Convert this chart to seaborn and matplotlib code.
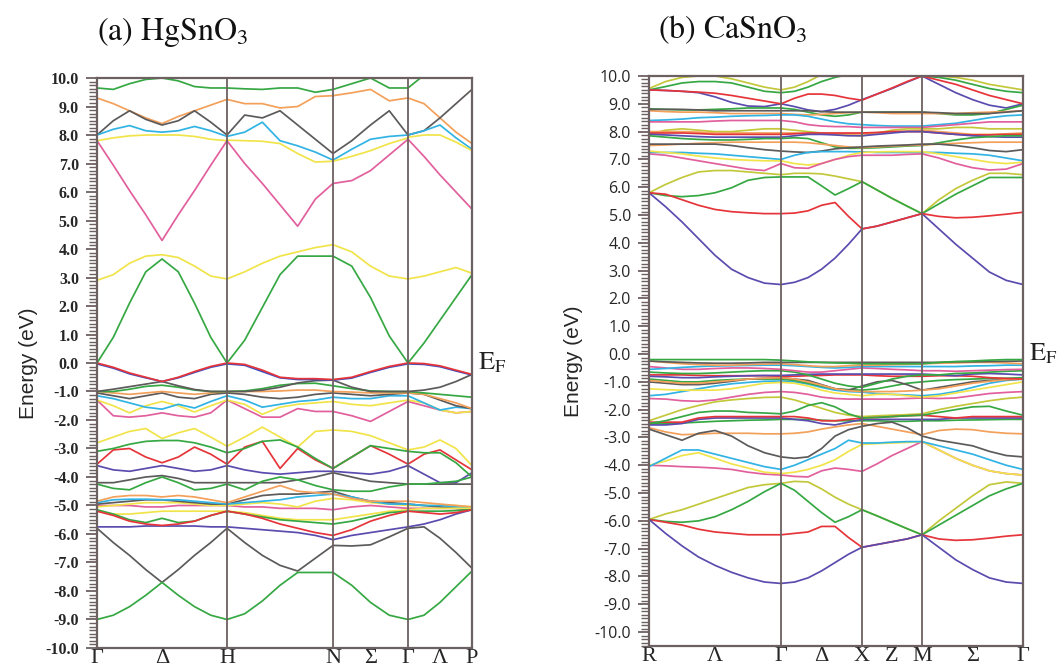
import numpy as np
import pandas as pd
import matplotlib
matplotlib.use("Agg")
import matplotlib.pyplot as plt
import matplotlib.transforms as mtransforms
from matplotlib.ticker import MultipleLocator, FormatStrFormatter
import seaborn as sns

# ---------------------------------------------------------------- k-paths
hg_nodes = [0, 130, 236, 311, 375]          # Γ  H  N  Γ  P
hg_divs = [8, 6, 4, 4]
hg_tick_k = [0, 65, 130, 236, 273.5, 311, 343, 375]
hg_tick_lab = ["Γ", "Δ", "H", "N", "Σ", "Γ", "Λ", "P"]

ca_nodes = [0, 132, 213, 273, 374]          # R  Γ  X  M  Γ
ca_divs = [8, 6, 4, 6]
ca_tick_k = [0, 66, 132, 172.5, 213, 243, 273, 323.5, 374]
ca_tick_lab = ["R", "Λ", "Γ", "Δ", "X", "Z", "M", "Σ", "Γ"]

# ------------------------------------------------ (a) HgSnO3 energies (eV)
# segments: Γ-H (9) + H-N (7) + N-Γ (5) + Γ-P (5)
hg_green_top = [9.65, 9.6, 9.8, 9.95, 10.0, 9.9, 9.7, 9.65, 9.65] + [9.65, 9.62, 9.6, 9.65, 9.65, 9.5, 9.6] + [9.6, 9.8, 10.0, 9.65, 9.65] + [9.65, 10.1, 10.5, 10.5, 10.5]
hg_orange_c = [9.3, 9.1, 8.85, 8.6, 8.4, 8.65, 8.85, 9.05, 9.25] + [9.25, 9.1, 9.1, 8.95, 9.0, 9.35, 9.38] + [9.38, 9.48, 9.6, 9.2, 9.3] + [9.3, 9.1, 8.6, 8.1, 7.7]
hg_black_c = [8.0, 8.5, 8.85, 8.55, 8.35, 8.5, 8.85, 8.45, 8.0] + [8.0, 8.7, 8.6, 8.85, 8.35, 7.85, 7.35] + [7.35, 7.8, 8.35, 8.85, 8.0] + [8.0, 8.15, 8.6, 9.1, 9.6]
hg_cyan_c = [8.0, 8.2, 8.33, 8.15, 8.1, 8.15, 8.3, 8.15, 7.95] + [7.95, 8.1, 8.45, 7.8, 7.62, 7.4, 7.12] + [7.12, 7.5, 7.85, 7.95, 8.0] + [8.0, 8.15, 8.35, 7.9, 7.5]
hg_yellow_c2 = [7.8, 7.9, 7.97, 8.0, 8.0, 8.0, 7.95, 7.85, 7.8] + [7.82, 7.8, 7.78, 7.7, 7.35, 7.05, 7.08] + [7.08, 7.25, 7.45, 7.7, 7.9] + [7.92, 8.0, 8.0, 7.75, 7.45]
hg_pink_c = [7.8, 6.94, 6.05, 5.2, 4.3, 5.2, 6.05, 6.94, 7.8] + [7.8, 7.0, 6.3, 5.55, 4.8, 5.75, 6.3] + [6.3, 6.4, 6.75, 7.3, 7.85] + [7.85, 7.25, 6.6, 6.0, 5.4]
hg_yellow_c1 = [2.9, 3.1, 3.5, 3.75, 3.8, 3.7, 3.4, 3.05, 2.95] + [2.95, 3.2, 3.5, 3.75, 3.9, 4.05, 4.15] + [4.15, 3.9, 3.4, 3.05, 2.95] + [2.95, 3.05, 3.2, 3.35, 3.15]
hg_green_c1 = [0.0, 0.9, 2.1, 3.2, 3.65, 3.2, 2.1, 0.9, 0.0] + [0.0, 0.8, 1.95, 3.1, 3.75, 3.75, 3.75] + [3.75, 3.4, 2.3, 0.95, 0.0] + [0.0, 0.7, 1.5, 2.3, 3.1]

hg_blue_v1 = [-0.03, -0.18, -0.38, -0.52, -0.65, -0.52, -0.33, -0.15, -0.03] + [-0.03, -0.08, -0.3, -0.52, -0.58, -0.58, -0.6] + [-0.6, -0.53, -0.33, -0.15, -0.03] + [-0.03, -0.05, -0.13, -0.28, -0.42]
hg_red_v1 = [0.0, -0.15, -0.35, -0.5, -0.65, -0.5, -0.3, -0.12, 0.0] + [0.0, -0.05, -0.25, -0.5, -0.55, -0.55, -0.58] + [-0.58, -0.5, -0.3, -0.12, 0.0] + [0.0, -0.02, -0.1, -0.25, -0.4]
hg_gray_v2 = [-1.0, -0.92, -0.83, -0.74, -0.65, -0.8, -0.93, -1.0, -1.0] + [-1.0, -1.0, -0.95, -0.85, -0.7, -0.62, -0.6] + [-0.6, -0.85, -1.0, -1.0, -1.0] + [-1.0, -0.95, -0.85, -0.65, -0.4]
hg_green_v2 = [-1.0, -1.0, -0.92, -0.82, -0.78, -0.85, -0.95, -1.0, -1.0] + [-1.0, -0.98, -0.9, -0.78, -0.72, -0.71, -0.8] + [-0.8, -0.9, -0.98, -1.0, -1.0] + [-1.0, -1.05, -1.1, -1.15, -1.2]
hg_orange_v2 = [-1.0, -1.05, -1.1, -1.05, -1.0, -1.05, -1.1, -1.05, -1.0] + [-1.0, -1.0, -1.0, -0.98, -0.95, -0.95, -1.0] + [-1.0, -1.02, -1.05, -1.05, -1.05] + [-1.05, -1.1, -1.25, -1.4, -1.6]
hg_brown_v2 = [-1.05, -1.15, -1.25, -1.15, -1.05, -1.2, -1.25, -1.1, -1.05] + [-1.05, -1.1, -1.2, -1.25, -1.2, -1.1, -1.05] + [-1.05, -1.1, -1.15, -1.1, -1.05] + [-1.05, -1.1, -1.3, -1.5, -1.6]
hg_cyan_v2 = [-1.15, -1.25, -1.4, -1.55, -1.62, -1.45, -1.58, -1.35, -1.15] + [-1.15, -1.3, -1.55, -1.45, -1.35, -1.3, -1.2] + [-1.2, -1.25, -1.25, -1.15, -1.15] + [-1.15, -1.4, -1.65, -1.55, -1.6]
hg_yellow_v2 = [-1.3, -1.5, -1.75, -1.5, -1.35, -1.5, -1.72, -1.5, -1.3] + [-1.3, -1.45, -1.8, -1.55, -1.45, -1.4, -1.35] + [-1.35, -1.45, -1.5, -1.4, -1.3] + [-1.3, -1.4, -1.65, -1.75, -1.7]
hg_pink_v2 = [-1.3, -1.85, -1.9, -1.85, -1.75, -1.85, -1.9, -1.75, -1.3] + [-1.3, -1.6, -1.9, -1.9, -1.6, -1.7, -1.7] + [-1.7, -1.85, -2.05, -1.7, -1.35] + [-1.35, -1.5, -1.65, -1.75, -1.7]
hg_yellow_v3 = [-2.8, -2.6, -2.4, -2.3, -2.65, -2.45, -2.3, -2.6, -2.92] + [-2.92, -2.6, -2.25, -2.6, -2.95, -2.4, -2.35] + [-2.35, -2.4, -2.55, -2.8, -3.05] + [-3.05, -2.95, -2.7, -3.0, -3.6]
hg_green_v3 = [-3.1, -3.0, -2.85, -2.75, -2.72, -2.72, -2.8, -2.95, -3.15] + [-3.15, -3.0, -2.75, -2.7, -2.95, -3.35, -3.7] + [-3.7, -3.3, -2.9, -3.0, -3.1] + [-3.1, -3.15, -3.15, -3.5, -4.0]
hg_red_v3 = [-3.55, -3.05, -3.0, -3.3, -3.5, -3.3, -2.95, -3.2, -3.55] + [-3.55, -2.95, -2.75, -3.7, -3.0, -3.4, -3.7] + [-3.7, -3.3, -2.9, -3.2, -3.55] + [-3.55, -3.2, -3.05, -3.4, -3.75]
hg_purple_v3 = [-3.6, -3.75, -3.8, -3.7, -3.6, -3.7, -3.8, -3.75, -3.6] + [-3.6, -3.75, -3.85, -3.9, -3.85, -3.8, -3.8] + [-3.8, -3.85, -3.9, -3.8, -3.6] + [-3.6, -3.9, -4.2, -4.2, -3.85]
hg_gray_v4 = [-4.2, -4.2, -4.1, -4.0, -3.95, -4.05, -4.2, -4.2, -4.2] + [-4.2, -4.2, -4.2, -4.2, -4.1, -4.0, -3.85] + [-3.85, -4.0, -4.15, -4.2, -4.25] + [-4.25, -4.25, -4.25, -4.25, -4.25]
hg_green_v4 = [-4.25, -4.4, -4.45, -4.2, -4.0, -4.2, -4.45, -4.4, -4.25] + [-4.25, -4.45, -4.15, -4.0, -4.1, -4.3, -4.45] + [-4.45, -4.5, -4.5, -4.35, -4.25] + [-4.25, -4.25, -4.2, -4.15, -4.0]
hg_orange_v5 = [-4.85, -4.7, -4.65, -4.65, -4.7, -4.65, -4.7, -4.8, -4.9] + [-4.9, -4.7, -4.5, -4.3, -4.5, -4.55, -4.6] + [-4.6, -4.75, -4.85, -4.85, -4.85] + [-4.85, -4.9, -4.95, -5.0, -5.05]
hg_cyan_v5 = [-4.9, -4.8, -4.78, -4.78, -4.8, -4.8, -4.85, -4.9, -4.95] + [-4.95, -4.9, -4.85, -4.8, -4.7, -4.65, -4.6] + [-4.6, -4.7, -4.85, -4.95, -4.95] + [-4.95, -5.0, -5.0, -5.05, -5.1]
hg_gray_v5 = [-4.95, -4.9, -4.85, -4.8, -4.8, -4.85, -4.9, -4.95, -4.95] + [-4.95, -4.8, -4.65, -4.6, -4.6, -4.55, -4.5] + [-4.5, -4.7, -4.85, -4.9, -4.95] + [-4.95, -5.0, -5.05, -5.1, -5.15]
hg_yellow_v5 = [-5.05, -5.0, -4.95, -4.9, -4.9, -4.9, -4.95, -5.0, -5.0] + [-5.0, -4.95, -4.9, -4.95, -5.05, -4.85, -4.75] + [-4.75, -4.8, -4.9, -4.95, -5.0] + [-5.0, -5.0, -5.0, -5.0, -5.05]
hg_pink_v5 = [-5.0, -5.0, -5.0, -5.05, -5.05, -5.0, -5.0, -5.0, -5.0] + [-5.0, -5.05, -5.05, -5.1, -5.1, -5.1, -5.15] + [-5.15, -5.05, -5.0, -5.05, -5.1] + [-5.1, -5.1, -5.1, -5.1, -5.15]
hg_red_v6 = [-5.2, -5.35, -5.55, -5.65, -5.7, -5.65, -5.55, -5.35, -5.2] + [-5.2, -5.3, -5.45, -5.65, -5.8, -5.95, -6.05] + [-6.05, -5.85, -5.55, -5.35, -5.2] + [-5.2, -5.25, -5.3, -5.25, -5.15]
hg_green_v6 = [-5.15, -5.3, -5.5, -5.6, -5.45, -5.6, -5.55, -5.35, -5.2] + [-5.2, -5.3, -5.4, -5.5, -5.55, -5.6, -5.65] + [-5.65, -5.55, -5.4, -5.25, -5.2] + [-5.2, -5.2, -5.2, -5.18, -5.15]
hg_yellow_v6 = [-5.2, -5.3, -5.3, -5.25, -5.2, -5.2, -5.2, -5.2, -5.2] + [-5.2, -5.25, -5.35, -5.45, -5.5, -5.5, -5.5] + [-5.5, -5.4, -5.3, -5.2, -5.15] + [-5.15, -5.1, -5.1, -5.1, -5.1]
hg_purple_v6 = [-5.75, -5.75, -5.75, -5.72, -5.72, -5.72, -5.72, -5.75, -5.75] + [-5.75, -5.8, -5.85, -5.9, -5.95, -6.05, -6.2] + [-6.2, -6.05, -5.95, -5.85, -5.75] + [-5.75, -5.65, -5.5, -5.3, -5.15]
hg_gray_v7 = [-5.8, -6.3, -6.75, -7.25, -7.7, -7.25, -6.75, -6.3, -5.8] + [-5.8, -6.3, -6.75, -7.1, -7.3, -6.85, -6.4] + [-6.4, -6.42, -6.38, -6.1, -5.8] + [-5.8, -5.75, -6.15, -6.65, -7.2]
hg_green_v8 = [-9.0, -8.85, -8.55, -8.15, -7.7, -8.15, -8.55, -8.85, -9.0] + [-9.0, -8.8, -8.35, -7.8, -7.35, -7.35, -7.35] + [-7.35, -7.8, -8.4, -8.85, -9.0] + [-9.0, -8.85, -8.4, -7.85, -7.3]

# ------------------------------------------------ (b) CaSnO3 energies (eV)
# segments: R-Γ (9) + Γ-X (7) + X-M (5) + M-Γ (7)
ca_yellow_c6 = [9.55, 9.8, 9.95, 10.0, 10.0, 9.9, 9.75, 9.6, 9.5] + [9.5, 9.6, 9.8, 10.05, 10.2, 10.3, 10.3] + [10.3, 10.3, 10.3, 10.2, 10.05] + [10.05, 10.0, 9.95, 9.85, 9.7, 9.6, 9.5]
ca_green_c6 = [9.5, 9.62, 9.75, 9.8, 9.8, 9.75, 9.6, 9.45, 9.4] + [9.4, 9.45, 9.6, 9.8, 9.95, 10.05, 10.1] + [10.1, 10.2, 10.2, 10.1, 10.0] + [10.0, 9.95, 9.85, 9.7, 9.55, 9.45, 9.4]
ca_purple_c5 = [9.5, 9.48, 9.45, 9.4, 9.25, 9.05, 8.92, 8.9, 9.0] + [9.0, 8.9, 8.78, 8.72, 8.8, 8.95, 9.15] + [9.15, 9.35, 9.55, 9.78, 10.0] + [10.0, 9.7, 9.4, 9.15, 8.95, 8.85, 9.0]
ca_red_c5 = [9.5, 9.48, 9.45, 9.42, 9.38, 9.3, 9.2, 9.1, 9.0] + [9.0, 9.2, 9.35, 9.35, 9.3, 9.2, 9.13] + [9.13, 9.35, 9.57, 9.8, 10.0] + [10.0, 9.85, 9.7, 9.5, 9.3, 9.15, 9.0]
ca_green_c5 = [8.82, 8.8, 8.78, 8.78, 8.8, 8.82, 8.85, 8.85, 8.85] + [8.85, 8.8, 8.7, 8.6, 8.55, 8.6, 8.7] + [8.7, 8.7, 8.7, 8.7, 8.7] + [8.7, 8.65, 8.6, 8.6, 8.65, 8.8, 8.95]
ca_black_c5 = [8.8, 8.8, 8.8, 8.78, 8.75, 8.75, 8.75, 8.75, 8.75] + [8.75, 8.75, 8.75, 8.72, 8.7, 8.7, 8.7] + [8.7, 8.7, 8.7, 8.7, 8.7] + [8.7, 8.68, 8.65, 8.65, 8.65, 8.7, 8.75]
ca_orange_c5 = [8.75, 8.72, 8.7, 8.7, 8.68, 8.65, 8.65, 8.65, 8.65] + [8.65, 8.62, 8.6, 8.62, 8.65, 8.68, 8.7] + [8.7, 8.68, 8.65, 8.65, 8.65] + [8.65, 8.65, 8.65, 8.68, 8.7, 8.72, 8.75]
ca_cyan_c4 = [8.4, 8.42, 8.45, 8.5, 8.52, 8.55, 8.57, 8.58, 8.6] + [8.6, 8.6, 8.55, 8.45, 8.35, 8.28, 8.25] + [8.25, 8.22, 8.2, 8.2, 8.2] + [8.2, 8.25, 8.3, 8.4, 8.5, 8.57, 8.6]
ca_pink_c4 = [8.35, 8.35, 8.35, 8.35, 8.38, 8.4, 8.4, 8.4, 8.4] + [8.4, 8.35, 8.25, 8.2, 8.18, 8.18, 8.15] + [8.15, 8.15, 8.15, 8.15, 8.15] + [8.15, 8.2, 8.25, 8.3, 8.35, 8.35, 8.35]
ca_yellow_c4 = [7.9, 8.05, 8.1, 8.05, 8.0, 8.0, 8.05, 8.1, 8.1] + [8.1, 8.05, 8.0, 7.95, 7.9, 7.88, 7.85] + [7.85, 7.95, 8.05, 8.1, 8.1] + [8.1, 8.1, 8.15, 8.15, 8.1, 8.1, 8.1]
ca_orange_c4 = [8.0, 8.0, 8.0, 7.98, 7.95, 7.95, 7.95, 7.95, 7.95] + [7.95, 7.95, 7.93, 7.92, 7.92, 7.92, 7.92] + [7.92, 7.95, 8.0, 8.02, 8.05] + [8.05, 8.0, 7.95, 7.9, 7.9, 7.92, 7.95]
ca_red_c4 = [7.95, 7.95, 7.95, 7.93, 7.9, 7.9, 7.9, 7.9, 7.9] + [7.9, 7.92, 7.95, 7.95, 7.95, 7.95, 7.95] + [7.95, 7.97, 8.0, 8.0, 8.0] + [8.0, 7.95, 7.9, 7.88, 7.88, 7.9, 7.9]
ca_purple_c4 = [7.9, 7.88, 7.85, 7.82, 7.8, 7.8, 7.8, 7.8, 7.8] + [7.8, 7.85, 7.9, 7.9, 7.88, 7.85, 7.85] + [7.85, 7.9, 7.95, 8.0, 8.0] + [8.0, 7.95, 7.9, 7.85, 7.82, 7.8, 7.8]
ca_green_c4 = [7.85, 7.8, 7.75, 7.72, 7.7, 7.7, 7.72, 7.75, 7.75] + [7.75, 7.78, 7.75, 7.6, 7.45, 7.4, 7.4] + [7.4, 7.42, 7.45, 7.48, 7.5] + [7.5, 7.6, 7.7, 7.78, 7.82, 7.85, 7.85]
ca_orange_c3 = [7.5, 7.52, 7.55, 7.58, 7.6, 7.62, 7.62, 7.62, 7.62] + [7.62, 7.62, 7.6, 7.55, 7.5, 7.45, 7.42] + [7.42, 7.45, 7.48, 7.5, 7.52] + [7.52, 7.55, 7.58, 7.6, 7.62, 7.62, 7.62]
ca_black_c3 = [7.55, 7.55, 7.55, 7.55, 7.55, 7.5, 7.42, 7.35, 7.3] + [7.3, 7.27, 7.25, 7.3, 7.38, 7.42, 7.45] + [7.45, 7.48, 7.5, 7.52, 7.55] + [7.55, 7.55, 7.5, 7.42, 7.32, 7.28, 7.35]
ca_cyan_c3 = [7.25, 7.25, 7.25, 7.22, 7.2, 7.15, 7.1, 7.05, 7.0] + [7.0, 7.15, 7.25, 7.28, 7.28, 7.28, 7.27] + [7.27, 7.25, 7.25, 7.25, 7.25] + [7.25, 7.25, 7.22, 7.2, 7.15, 7.05, 6.95]
ca_yellow_c3 = [7.3, 7.25, 7.2, 7.12, 7.05, 7.0, 6.97, 6.95, 6.95] + [6.95, 6.85, 6.8, 6.85, 7.0, 7.15, 7.25] + [7.25, 7.27, 7.28, 7.28, 7.28] + [7.28, 7.2, 7.1, 7.0, 6.9, 6.85, 6.9]
ca_pink_c3 = [7.2, 7.15, 7.05, 6.95, 6.85, 6.75, 6.65, 6.6, 6.85] + [6.85, 6.7, 6.68, 6.85, 7.0, 7.1, 7.15] + [7.15, 7.15, 7.15, 7.18, 7.2] + [7.2, 7.05, 6.85, 6.7, 6.62, 6.65, 6.85]
ca_olive_c2 = [5.8, 6.1, 6.35, 6.55, 6.6, 6.6, 6.55, 6.5, 6.45] + [6.45, 6.5, 6.5, 6.48, 6.4, 6.3, 6.2] + [6.2, 5.9, 5.6, 5.32, 5.05] + [5.05, 5.55, 5.95, 6.25, 6.5, 6.5, 6.45]
ca_green_c2 = [5.8, 5.7, 5.66, 5.7, 5.8, 5.98, 6.25, 6.35, 6.37] + [6.37, 6.37, 6.37, 6.05, 5.72, 5.95, 6.2] + [6.2, 5.9, 5.6, 5.32, 5.05] + [5.05, 5.4, 5.75, 6.05, 6.35, 6.35, 6.35]
ca_red_c1 = [5.8, 5.75, 5.55, 5.35, 5.2, 5.12, 5.08, 5.05, 5.05] + [5.05, 5.07, 5.15, 5.35, 5.45, 4.95, 4.5] + [4.5, 4.6, 4.75, 4.9, 5.05] + [5.05, 4.95, 4.9, 4.92, 4.97, 5.03, 5.1]
ca_purple_c1 = [5.8, 5.3, 4.75, 4.15, 3.55, 3.05, 2.75, 2.55, 2.5] + [2.5, 2.58, 2.75, 3.05, 3.45, 3.95, 4.5] + [4.5, 4.6, 4.75, 4.9, 5.05] + [5.05, 4.5, 3.95, 3.45, 2.95, 2.65, 2.5]

ca_green_v1 = [-0.2, -0.2, -0.2, -0.2, -0.2, -0.2, -0.2, -0.2, -0.22] + [-0.22, -0.25, -0.28, -0.3, -0.32, -0.33, -0.35] + [-0.35, -0.35, -0.35, -0.35, -0.35] + [-0.35, -0.3, -0.27, -0.25, -0.22, -0.2, -0.2]
ca_black_v1 = [-0.25, -0.28, -0.3, -0.32, -0.33, -0.33, -0.32, -0.3, -0.3] + [-0.3, -0.3, -0.3, -0.3, -0.3, -0.3, -0.3] + [-0.3, -0.3, -0.3, -0.3, -0.3] + [-0.3, -0.3, -0.28, -0.28, -0.27, -0.26, -0.25]
ca_orange_v1 = [-0.25, -0.3, -0.35, -0.38, -0.4, -0.4, -0.38, -0.36, -0.35] + [-0.35, -0.38, -0.42, -0.45, -0.45, -0.42, -0.4] + [-0.4, -0.4, -0.38, -0.37, -0.35] + [-0.35, -0.33, -0.32, -0.3, -0.3, -0.32, -0.35]
ca_cyan_v1 = [-0.55, -0.52, -0.48, -0.45, -0.43, -0.42, -0.41, -0.4, -0.4] + [-0.4, -0.42, -0.45, -0.48, -0.5, -0.48, -0.45] + [-0.45, -0.45, -0.45, -0.45, -0.45] + [-0.45, -0.45, -0.45, -0.43, -0.42, -0.4, -0.4]
ca_pink_v1 = [-0.45, -0.5, -0.55, -0.55, -0.52, -0.5, -0.5, -0.52, -0.55] + [-0.55, -0.6, -0.65, -0.65, -0.6, -0.55, -0.5] + [-0.5, -0.52, -0.55, -0.57, -0.6] + [-0.6, -0.6, -0.62, -0.6, -0.58, -0.56, -0.55]
ca_green_v2 = [-0.65, -0.68, -0.7, -0.7, -0.68, -0.65, -0.62, -0.6, -0.6] + [-0.6, -0.65, -0.75, -0.9, -1.05, -1.15, -1.2] + [-1.2, -1.05, -0.9, -0.8, -0.75] + [-0.75, -0.75, -0.7, -0.68, -0.65, -0.62, -0.6]
ca_purple_v2 = [-0.8, -0.82, -0.85, -0.85, -0.82, -0.8, -0.78, -0.77, -0.77] + [-0.77, -0.75, -0.73, -0.72, -0.72, -0.72, -0.72] + [-0.72, -0.72, -0.72, -0.72, -0.72] + [-0.72, -0.75, -0.78, -0.72, -0.7, -0.72, -0.75]
ca_red_v2 = [-0.75, -0.75, -0.75, -0.77, -0.78, -0.78, -0.78, -0.78, -0.8] + [-0.8, -0.8, -0.78, -0.77, -0.75, -0.75, -0.75] + [-0.75, -0.78, -0.8, -0.8, -0.8] + [-0.8, -0.78, -0.78, -0.8, -0.85, -0.88, -0.9]
ca_orange_v2 = [-0.95, -1.0, -1.05, -1.05, -1.0, -0.95, -0.9, -0.87, -0.85] + [-0.85, -0.9, -1.0, -1.12, -1.25, -1.32, -1.35] + [-1.35, -1.35, -1.35, -1.33, -1.3] + [-1.3, -1.25, -1.15, -1.05, -0.98, -0.92, -0.9]
ca_black_v2 = [-1.0, -1.05, -1.1, -1.1, -1.05, -0.98, -0.9, -0.87, -0.85] + [-0.85, -0.9, -0.95, -1.1, -1.25, -1.3, -1.15] + [-1.15, -1.0, -0.95, -1.1, -1.3] + [-1.3, -1.2, -1.1, -1.0, -0.95, -0.92, -0.9]
ca_green_v3 = [-0.9, -0.95, -1.0, -1.0, -0.95, -0.92, -0.9, -0.9, -0.9] + [-0.9, -0.95, -1.05, -1.15, -1.25, -1.28, -1.3] + [-1.3, -1.25, -1.15, -1.05, -1.0] + [-1.0, -0.95, -0.92, -0.9, -0.88, -0.87, -0.85]
ca_yellow_v3 = [-1.25, -1.28, -1.3, -1.3, -1.3, -1.25, -1.15, -1.05, -1.02] + [-1.02, -1.05, -1.15, -1.3, -1.4, -1.45, -1.5] + [-1.5, -1.45, -1.45, -1.5, -1.55] + [-1.55, -1.5, -1.4, -1.3, -1.2, -1.1, -1.0]
ca_cyan_v3 = [-1.5, -1.45, -1.35, -1.25, -1.15, -1.07, -1.02, -0.98, -0.97] + [-0.97, -1.0, -1.08, -1.2, -1.3, -1.35, -1.37] + [-1.37, -1.42, -1.45, -1.47, -1.5] + [-1.5, -1.45, -1.35, -1.2, -1.05, -0.95, -0.9]
ca_pink_v3 = [-1.6, -1.62, -1.68, -1.7, -1.65, -1.55, -1.45, -1.38, -1.35] + [-1.35, -1.38, -1.45, -1.55, -1.6, -1.62, -1.62] + [-1.62, -1.62, -1.62, -1.6, -1.58] + [-1.58, -1.6, -1.58, -1.5, -1.42, -1.38, -1.35]
ca_olive_v4 = [-2.4, -2.2, -2.0, -1.85, -1.72, -1.65, -1.6, -1.56, -1.55] + [-1.55, -1.65, -1.8, -1.95, -2.1, -2.2, -2.25] + [-2.25, -2.22, -2.2, -2.18, -2.15] + [-2.15, -2.0, -1.88, -1.78, -1.68, -1.6, -1.55]
ca_green_v4 = [-2.5, -2.4, -2.25, -2.1, -2.05, -2.05, -2.1, -2.12, -2.15] + [-2.15, -2.05, -1.85, -1.75, -1.9, -2.15, -2.3] + [-2.3, -2.28, -2.25, -2.22, -2.2] + [-2.2, -2.1, -2.0, -1.9, -1.88, -2.05, -2.2]
ca_red_v4 = [-2.45, -2.45, -2.45, -2.3, -2.25, -2.25, -2.25, -2.25, -2.25] + [-2.25, -2.25, -2.3, -2.4, -2.4, -2.35, -2.3] + [-2.3, -2.28, -2.25, -2.22, -2.2] + [-2.2, -2.25, -2.3, -2.25, -2.25, -2.25, -2.25]
ca_purple_v4 = [-2.55, -2.55, -2.5, -2.35, -2.3, -2.3, -2.3, -2.3, -2.3] + [-2.3, -2.35, -2.4, -2.5, -2.55, -2.45, -2.35] + [-2.35, -2.35, -2.35, -2.35, -2.35] + [-2.35, -2.35, -2.3, -2.3, -2.3, -2.3, -2.3]
ca_green_v5 = [-2.5, -2.5, -2.48, -2.45, -2.42, -2.4, -2.38, -2.37, -2.35] + [-2.35, -2.35, -2.35, -2.38, -2.4, -2.4, -2.4] + [-2.4, -2.4, -2.42, -2.42, -2.4] + [-2.4, -2.4, -2.38, -2.37, -2.36, -2.35, -2.35]
ca_orange_v5 = [-2.65, -2.8, -2.9, -2.88, -2.85, -2.85, -2.85, -2.87, -2.87] + [-2.87, -2.85, -2.8, -2.7, -2.62, -2.55, -2.5] + [-2.5, -2.6, -2.7, -2.8, -2.9] + [-2.9, -2.75, -2.7, -2.72, -2.8, -2.85, -2.87]
ca_black_v5 = [-2.7, -2.9, -3.1, -2.85, -2.75, -2.95, -3.3, -3.55, -3.7] + [-3.7, -3.75, -3.7, -3.4, -2.95, -2.72, -2.6] + [-2.6, -2.5, -2.45, -2.65, -2.95] + [-2.95, -3.1, -3.2, -3.3, -3.5, -3.65, -3.7]
ca_cyan_v6 = [-4.05, -3.75, -3.45, -3.45, -3.6, -3.75, -3.9, -4.05, -4.15] + [-4.15, -4.0, -3.8, -3.6, -3.4, -3.1, -3.2] + [-3.2, -3.2, -3.17, -3.15, -3.15] + [-3.15, -3.3, -3.45, -3.6, -3.8, -4.0, -4.15]
ca_yellow_v6 = [-4.0, -3.85, -3.65, -3.55, -3.75, -3.95, -4.1, -4.25, -4.3] + [-4.3, -4.25, -4.15, -4.0, -3.8, -3.5, -3.25] + [-3.25, -3.22, -3.2, -3.18, -3.15] + [-3.15, -3.45, -3.75, -4.0, -4.2, -4.3, -4.35]
ca_pink_v6 = [-4.0, -4.02, -4.05, -4.07, -4.1, -4.15, -4.25, -4.32, -4.35] + [-4.35, -4.4, -4.42, -4.2, -4.1, -4.15, -4.22] + [-4.22, -3.95, -3.65, -3.4, -3.15] + [-3.15, -3.45, -3.75, -4.0, -4.2, -4.3, -4.35]
ca_olive_v7 = [-5.95, -5.75, -5.6, -5.4, -5.2, -5.0, -4.8, -4.7, -4.65] + [-4.65, -4.58, -4.6, -4.85, -5.15, -5.4, -5.6] + [-5.6, -5.82, -6.05, -6.28, -6.5] + [-6.5, -6.0, -5.55, -5.1, -4.7, -4.6, -4.65]
ca_green_v7 = [-5.95, -6.02, -6.05, -6.0, -5.85, -5.6, -5.3, -4.95, -4.65] + [-4.65, -4.9, -5.3, -5.7, -6.05, -5.85, -5.6] + [-5.6, -5.82, -6.05, -6.28, -6.5] + [-6.5, -6.15, -5.8, -5.45, -5.1, -4.85, -4.65]
ca_red_v8 = [-5.95, -6.05, -6.15, -6.3, -6.4, -6.45, -6.5, -6.5, -6.5] + [-6.5, -6.45, -6.4, -6.2, -6.2, -6.6, -6.95] + [-6.95, -6.85, -6.75, -6.65, -6.5] + [-6.5, -6.65, -6.7, -6.68, -6.62, -6.55, -6.5]
ca_purple_v8 = [-5.95, -6.45, -6.9, -7.3, -7.6, -7.85, -8.05, -8.2, -8.25] + [-8.25, -8.2, -8.05, -7.8, -7.5, -7.2, -6.95] + [-6.95, -6.85, -6.75, -6.65, -6.5] + [-6.5, -6.95, -7.4, -7.75, -8.05, -8.2, -8.25]

# ------------------------------------------------------------- colours
GREEN = "#36a843"
YELLOW = "#f1e44a"
OLIVE = "#c3c83a"
RED = "#e6353a"
PINK = "#e25f9d"
CYAN = "#31b3e4"
ORANGE = "#f3a05a"
GRAY = "#5d5a5a"
PURPLE = "#5a4cae"
BLUE = "#3d4dbf"
FRAME = "#6d6060"

hg_bands = [
    (hg_green_top, GREEN), (hg_orange_c, ORANGE), (hg_black_c, GRAY), (hg_cyan_c, CYAN),
    (hg_yellow_c2, YELLOW), (hg_pink_c, PINK), (hg_yellow_c1, YELLOW), (hg_green_c1, GREEN),
    (hg_pink_v2, PINK), (hg_yellow_v2, YELLOW), (hg_cyan_v2, CYAN), (hg_brown_v2, GRAY),
    (hg_orange_v2, ORANGE), (hg_green_v2, GREEN), (hg_gray_v2, GRAY),
    (hg_blue_v1, BLUE), (hg_red_v1, RED),
    (hg_yellow_v3, YELLOW), (hg_purple_v3, PURPLE), (hg_red_v3, RED), (hg_green_v3, GREEN),
    (hg_gray_v4, GRAY), (hg_green_v4, GREEN),
    (hg_pink_v5, PINK), (hg_yellow_v5, YELLOW), (hg_gray_v5, GRAY), (hg_cyan_v5, CYAN), (hg_orange_v5, ORANGE),
    (hg_yellow_v6, YELLOW), (hg_purple_v6, PURPLE), (hg_green_v6, GREEN), (hg_red_v6, RED),
    (hg_gray_v7, GRAY), (hg_green_v8, GREEN),
]

ca_bands = [
    (ca_yellow_c6, OLIVE), (ca_green_c6, GREEN), (ca_purple_c5, PURPLE), (ca_red_c5, RED),
    (ca_green_c5, GREEN), (ca_orange_c5, ORANGE), (ca_black_c5, GRAY),
    (ca_cyan_c4, CYAN), (ca_pink_c4, PINK), (ca_yellow_c4, OLIVE), (ca_orange_c4, ORANGE),
    (ca_red_c4, RED), (ca_purple_c4, PURPLE), (ca_green_c4, GREEN),
    (ca_orange_c3, ORANGE), (ca_black_c3, GRAY), (ca_cyan_c3, CYAN), (ca_yellow_c3, YELLOW), (ca_pink_c3, PINK),
    (ca_olive_c2, OLIVE), (ca_green_c2, GREEN), (ca_purple_c1, PURPLE), (ca_red_c1, RED),
    (ca_pink_v3, PINK), (ca_cyan_v3, CYAN), (ca_yellow_v3, YELLOW), (ca_green_v3, GREEN),
    (ca_black_v2, GRAY), (ca_orange_v2, ORANGE), (ca_red_v2, RED), (ca_purple_v2, PURPLE),
    (ca_green_v2, GREEN), (ca_pink_v1, PINK), (ca_cyan_v1, CYAN), (ca_orange_v1, ORANGE),
    (ca_black_v1, GRAY), (ca_green_v1, GREEN),
    (ca_olive_v4, OLIVE), (ca_green_v5, GREEN), (ca_purple_v4, PURPLE), (ca_red_v4, RED), (ca_green_v4, GREEN),
    (ca_orange_v5, ORANGE), (ca_black_v5, GRAY),
    (ca_pink_v6, PINK), (ca_yellow_v6, YELLOW), (ca_cyan_v6, CYAN),
    (ca_olive_v7, OLIVE), (ca_green_v7, GREEN), (ca_red_v8, RED), (ca_purple_v8, PURPLE),
]

# ------------------------------------------------------------- styling
sns.set_theme(style="ticks")
plt.rcParams["font.family"] = ["Liberation Serif", "DejaVu Serif"]
plt.rcParams["mathtext.fontset"] = "stix"


def kgrid(nodes, divs):
    parts = [np.linspace(nodes[i], nodes[i + 1], divs[i] + 1) for i in range(len(divs))]
    return np.concatenate(parts)


def draw_panel(ax, nodes, divs, bands, tick_k, tick_lab, ylow, tick_font, tick_weight):
    k = kgrid(nodes, divs)
    for energies, color in bands:
        df = pd.DataFrame({"k": k, "E": energies})
        sns.lineplot(data=df, x="k", y="E", color=color, linewidth=1.25,
                     estimator=None, sort=False, legend=False, ax=ax)
    for xv in nodes[1:-1]:
        ax.axvline(xv, color=FRAME, lw=1.3, zorder=5)
    ax.set_xlim(nodes[0], nodes[-1])
    ax.set_ylim(ylow, 10.0)
    for sp in ax.spines.values():
        sp.set_visible(True)
        sp.set_color(FRAME)
        sp.set_linewidth(1.6)
    ax.set_xticks(tick_k)
    ax.set_xticklabels(tick_lab, fontsize=16)
    ax.tick_params(axis="x", which="both", length=0, pad=1)
    ax.yaxis.set_major_locator(MultipleLocator(1.0))
    ax.yaxis.set_minor_locator(MultipleLocator(0.125))
    ax.yaxis.set_major_formatter(FormatStrFormatter("%.1f"))
    ax.tick_params(axis="y", which="major", direction="out", left=True,
                   length=8, width=1.3, color=FRAME, pad=5, labelsize=11.5)
    ax.tick_params(axis="y", which="minor", direction="out", left=True,
                   length=5.5, width=1.0, color=FRAME)
    for lab in ax.get_yticklabels():
        lab.set_fontweight(tick_weight)
        lab.set_fontfamily(tick_font)
    ax.set_xlabel(" ")
    ax.set_ylabel("Energy (eV)", fontsize=15, fontfamily="Liberation Sans")
    # tick marks forced on for every energy tick
    for t in ax.yaxis.get_major_ticks() + ax.yaxis.get_minor_ticks():
        t.tick1line.set_visible(True)
        t.tick1line.set_markeredgecolor(FRAME)
    trans = mtransforms.blended_transform_factory(ax.transAxes, ax.transData)
    ax.text(1.015, 0.0, r"$\mathrm{E_F}$", transform=trans, fontsize=19,
            ha="left", va="center", color="#222222")


fig = plt.figure(figsize=(10.64, 6.69), dpi=100)
ax_a = fig.add_axes([0.0912, 0.0314, 0.3524, 0.852])
ax_b = fig.add_axes([0.6100, 0.0344, 0.3515, 0.852])

draw_panel(ax_a, hg_nodes, hg_divs, hg_bands, hg_tick_k, hg_tick_lab, -10.0,
           "Liberation Serif", "bold")
draw_panel(ax_b, ca_nodes, ca_divs, ca_bands, ca_tick_k, ca_tick_lab, -10.5,
           "Open Sans", "normal")
ax_a.yaxis.set_label_coords(-0.157, 0.5)
ax_b.yaxis.set_label_coords(-0.176, 0.5)

fig.text(0.091, 0.94, r"$\mathrm{(a)\ HgSnO_3}$", fontsize=23, ha="left", va="baseline",
         color="#111111")
fig.text(0.618, 0.943, r"$\mathrm{(b)\ CaSnO_3}$", fontsize=23, ha="left", va="baseline",
         color="#111111")

fig.savefig("out.png", dpi=100, facecolor="white")
